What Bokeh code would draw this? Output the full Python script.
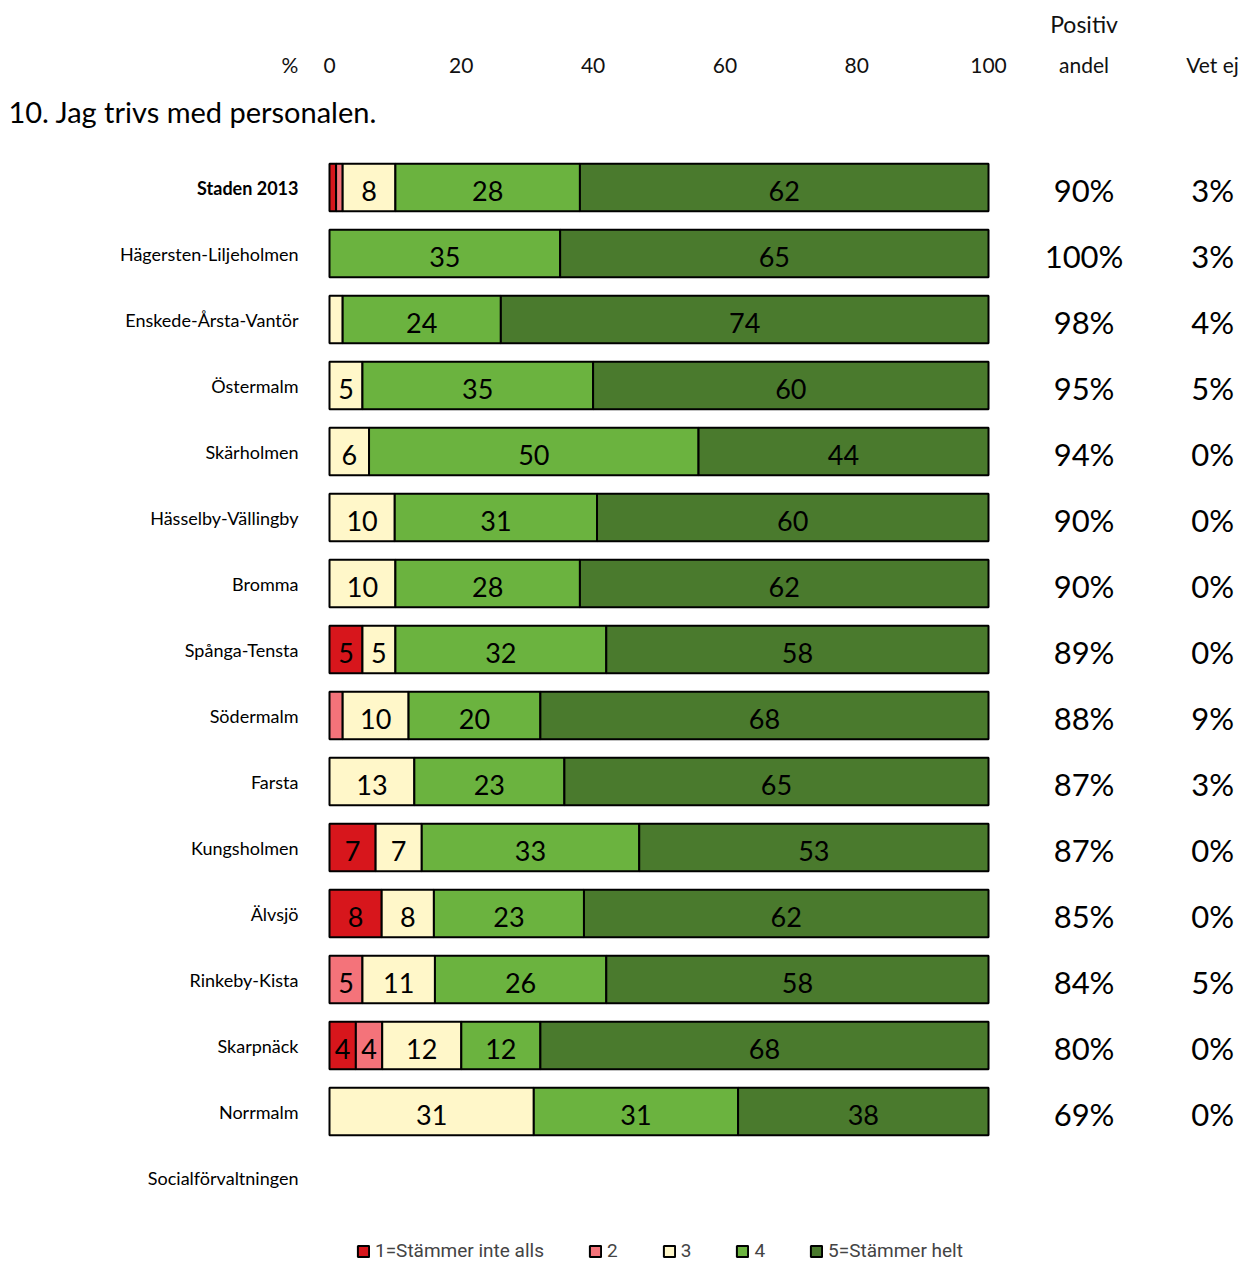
from bokeh.plotting import figure
from bokeh.models import (ColumnDataSource, Range1d, LinearAxis, FixedTicker,
                          Label, Legend, LegendItem)
from bokeh.core.properties import value
from bokeh.embed import file_html
from bokeh.resources import INLINE

categories = ["Staden 2013", "Hägersten-Liljeholmen", "Enskede-Årsta-Vantör",
              "Östermalm", "Skärholmen", "Hässelby-Vällingby", "Bromma",
              "Spånga-Tensta", "Södermalm", "Farsta", "Kungsholmen", "Älvsjö",
              "Rinkeby-Kista", "Skarpnäck", "Norrmalm", "Socialförvaltningen"]

series_names = ["1=Stämmer inte alls", "2", "3", "4", "5=Stämmer helt"]
s1 = [1, 0, 0, 0, 0, 0, 0, 5, 0, 0, 7, 8, 0, 4, 0, 0]
s2 = [1, 0, 0, 0, 0, 0, 0, 0, 2, 0, 0, 0, 5, 4, 0, 0]
s3 = [8, 0, 2, 5, 6, 10, 10, 5, 10, 13, 7, 8, 11, 12, 31, 0]
s4 = [28, 35, 24, 35, 50, 31, 28, 32, 20, 23, 33, 23, 26, 12, 31, 0]
s5 = [62, 65, 74, 60, 44, 60, 62, 58, 68, 65, 53, 62, 58, 68, 38, 0]

positiv_andel = [90, 100, 98, 95, 94, 90, 90, 89, 88, 87, 87, 85, 84, 80, 69, None]
vet_ej = [3, 3, 4, 5, 0, 0, 0, 0, 9, 3, 0, 0, 5, 0, 0, None]

tick_values = [0, 20, 40, 60, 80, 100]
header_labels = {"pct": "%", "andel": "andel", "vet": "Vet ej", "positiv": "Positiv"}

colors = ["#D7161C", "#F4737A", "#FFF7C9", "#6BB33F", "#4A7A2D"]

FONT = "Lato"

# ---- figure geometry ----
W, H = 1246, 1262
TOP = 90
px_per_unit_x = 6.59
x_start = -329 / px_per_unit_x
x_end = x_start + W / px_per_unit_x
y_top = -0.5 - 0.97
y_bottom = y_top + (H - TOP) / 66.0

X_PCT, X_POS, X_VET = -6, 114.5, 134

p = figure(width=W, height=H, output_backend="svg", toolbar_location=None,
           x_range=Range1d(x_start, x_end), y_range=Range1d(y_bottom, y_top),
           x_axis_type=None, y_axis_type=None,
           min_border_left=0, min_border_right=0, min_border_bottom=0,
           min_border_top=TOP, outline_line_color=None)
p.xgrid.visible = False
p.ygrid.visible = False

# inner axis: tick values plus column headers on the same row
ax = LinearAxis(ticker=FixedTicker(ticks=[X_PCT] + tick_values + [X_POS, X_VET]))
ax.major_label_overrides = {X_PCT: header_labels["pct"],
                            X_POS: header_labels["andel"],
                            X_VET: header_labels["vet"]}
ax.axis_line_color = None
ax.major_tick_line_color = None
ax.minor_tick_line_color = None
ax.major_tick_out = 0
ax.major_tick_in = 0
ax.major_label_standoff = 14
ax.major_label_text_font = FONT
ax.major_label_text_font_size = "21px"
ax.major_label_text_color = "#111111"
p.add_layout(ax, "above")

# outer axis: "Positiv"
ax2 = LinearAxis(ticker=FixedTicker(ticks=[X_POS]))
ax2.major_label_overrides = {X_POS: header_labels["positiv"]}
ax2.axis_line_color = None
ax2.major_tick_line_color = None
ax2.minor_tick_line_color = None
ax2.major_tick_out = 0
ax2.major_tick_in = 0
ax2.major_label_standoff = 11
ax2.major_label_text_font = FONT
ax2.major_label_text_font_size = "23px"
ax2.major_label_text_color = "#111111"
p.add_layout(ax2, "above")

# ---- stacked bars ----
all_series = [s1, s2, s3, s4, s5]
totals = [sum(s[i] for s in all_series) for i in range(len(categories))]
cum = [0] * len(categories)
legend_items = []
for j, s in enumerate(all_series):
    ys, lefts, rights, labels, mids = [], [], [], [], []
    for i, v in enumerate(s):
        if totals[i] == 0:
            continue
        left = cum[i] / totals[i] * 100
        right = (cum[i] + v) / totals[i] * 100
        cum[i] += v
        if v <= 0:
            continue
        ys.append(i)
        lefts.append(left)
        rights.append(right)
        mids.append((left + right) / 2)
        labels.append(str(v) if v >= 4 else "")
    src = ColumnDataSource(dict(y=ys, left=lefts, right=rights, mid=mids, label=labels))
    r = p.hbar(y="y", left="left", right="right", height=0.72, source=src,
               fill_color=colors[j], line_color="black", line_width=2)
    p.text(x="mid", y="y", text="label", source=src, text_align="center",
           text_baseline="middle", y_offset=3, text_font=value(FONT),
           text_font_size="27px", text_color="black")
    legend_items.append(LegendItem(label=series_names[j], renderers=[r]))

# ---- category labels ----
cat_src = ColumnDataSource(dict(
    y=list(range(len(categories))), name=categories,
    style=["bold"] + ["normal"] * (len(categories) - 1)))
p.text(x=0, y="y", text="name", source=cat_src, x_offset=-31, y_offset=0,
       text_align="right", text_baseline="middle", text_font=value(FONT),
       text_font_size="18px", text_font_style="style", text_color="black")

# ---- right columns ----
rows = [i for i in range(len(categories)) if positiv_andel[i] is not None]
col_src = ColumnDataSource(dict(
    y=rows,
    pos=[f"{positiv_andel[i]}%" for i in rows],
    vet=[f"{vet_ej[i]}%" for i in rows]))
p.text(x=X_POS, y="y", text="pos", source=col_src, text_align="center",
       text_baseline="middle", y_offset=2, text_font=value(FONT),
       text_font_size="31px", text_color="black")
p.text(x=X_VET, y="y", text="vet", source=col_src, text_align="center",
       text_baseline="middle", y_offset=2, text_font=value(FONT),
       text_font_size="31px", text_color="black")

# ---- title (inside the frame) ----
p.add_layout(Label(x=x_start + 1.2, y=y_top + 21 / 66.0,
                   text="10. Jag trivs med personalen.", text_align="left",
                   text_baseline="middle", text_font=FONT,
                   text_font_size="29px", text_color="black"))

legend = Legend(items=legend_items, orientation="horizontal", location=(356, 0),
                spacing=44, glyph_width=14, glyph_height=14, label_standoff=5,
                padding=0, margin=0, border_line_color=None,
                background_fill_alpha=0, label_text_font="Roboto",
                label_text_font_size="19px", label_height=20, label_width=5)
p.add_layout(legend)

open("out.html", "w").write(file_html(p, INLINE))
